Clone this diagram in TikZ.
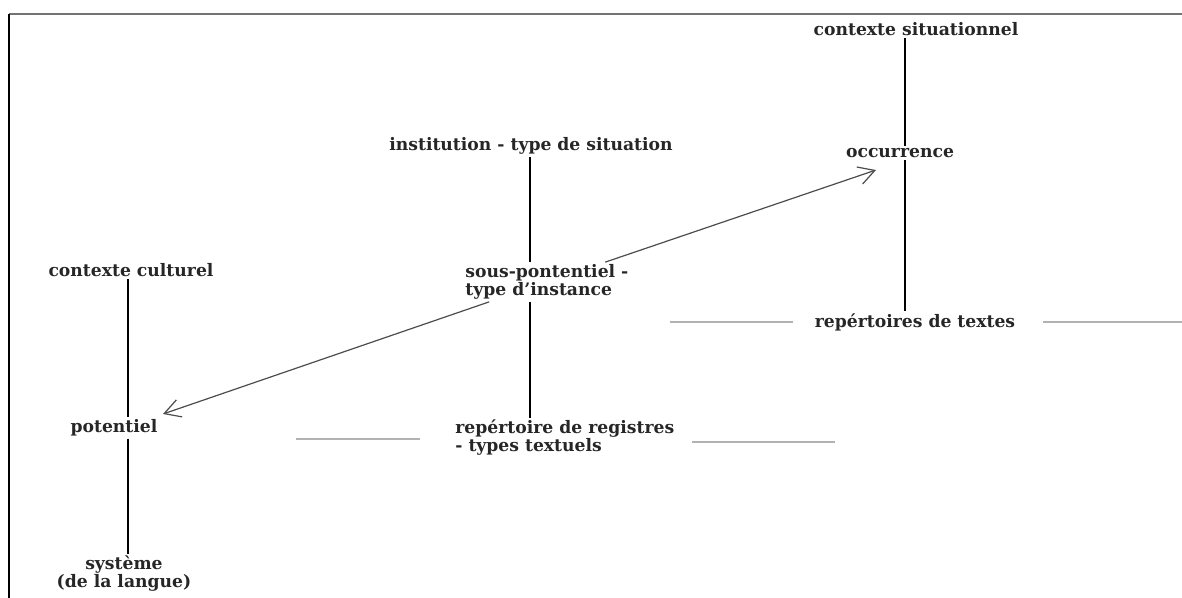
\documentclass[tikz,border=0pt]{standalone}
\usepackage{fontspec}
\setmainfont{DejaVu Serif}
\usetikzlibrary{arrows.meta}

\begin{document}
\begin{tikzpicture}[x=0.5pt, y=-0.5pt,
  lbl/.style={font=\bfseries\fontsize{8.6}{9}\selectfont, inner sep=1pt, text=black!85},
  stem/.style={line width=0.8pt, black},
  rule/.style={line width=0.8pt, black!30},
  link/.style={line width=0.6pt, black!70, -{Straight Barb[length=8pt,width=9pt]}}
  ]
\useasboundingbox (0,0) rectangle (1182,598);

% Rahmen
\draw[line width=1pt, black!55] (9,14) -- (1182,14);
\draw[line width=1pt, black] (9,14) -- (9,598);

% Spitzen des Doppelpfeils
\coordinate (tipL) at (163,414);
\coordinate (tipR) at (876,170);

% Begriffe
\node[lbl] (ctxsit) at (916,29) {contexte situationnel};
\node[lbl] (occ) at (900,153) {occurrence};
\node[lbl] (reptext) at (915,322) {repértoires de textes};
\node[lbl] (inst) at (531,146) {institution - type de situation};
\node[lbl, align=left, anchor=west] (sous) at (463,282) {sous-pontentiel -\\type d'instance};
\node[lbl, align=left, anchor=west] (reg) at (453,438) {repértoire de registres\\- types textuels};
\node[lbl] (ctxcult) at (131,270) {contexte culturel};
\node[lbl] (pot) at (114,428) {potentiel};
\node[lbl, align=center] (sys) at (124,574) {système\\(de la langue)};

% senkrechte Achsen
\coordinate (colA) at (128,0);
\coordinate (colB) at (530,0);
\coordinate (colC) at (905,0);
\draw[stem] (colA |- ctxcult.south) -- (colA |- pot.north);
\draw[stem] (colA |- pot.south) -- (colA |- sys.north);
\draw[stem] (colB |- inst.south) -- (colB |- sous.north);
\draw[stem] (colB |- sous.south) -- (colB |- reg.north);
\draw[stem] (colC |- ctxsit.south) -- (colC |- occ.north);
\draw[stem] (colC |- occ.south) -- (colC |- reptext.north);

% Doppelpfeil
\draw[link] (sous) -- (tipL);
\draw[link] (sous) -- (tipR);

% graue Linien
\draw[rule] (296,439) -- (420,439);
\draw[rule] (692,442) -- (835,442);
\draw[rule] (670,322) -- (793,322);
\draw[rule] (1043,322) -- (1182,322);
\end{tikzpicture}
\end{document}
